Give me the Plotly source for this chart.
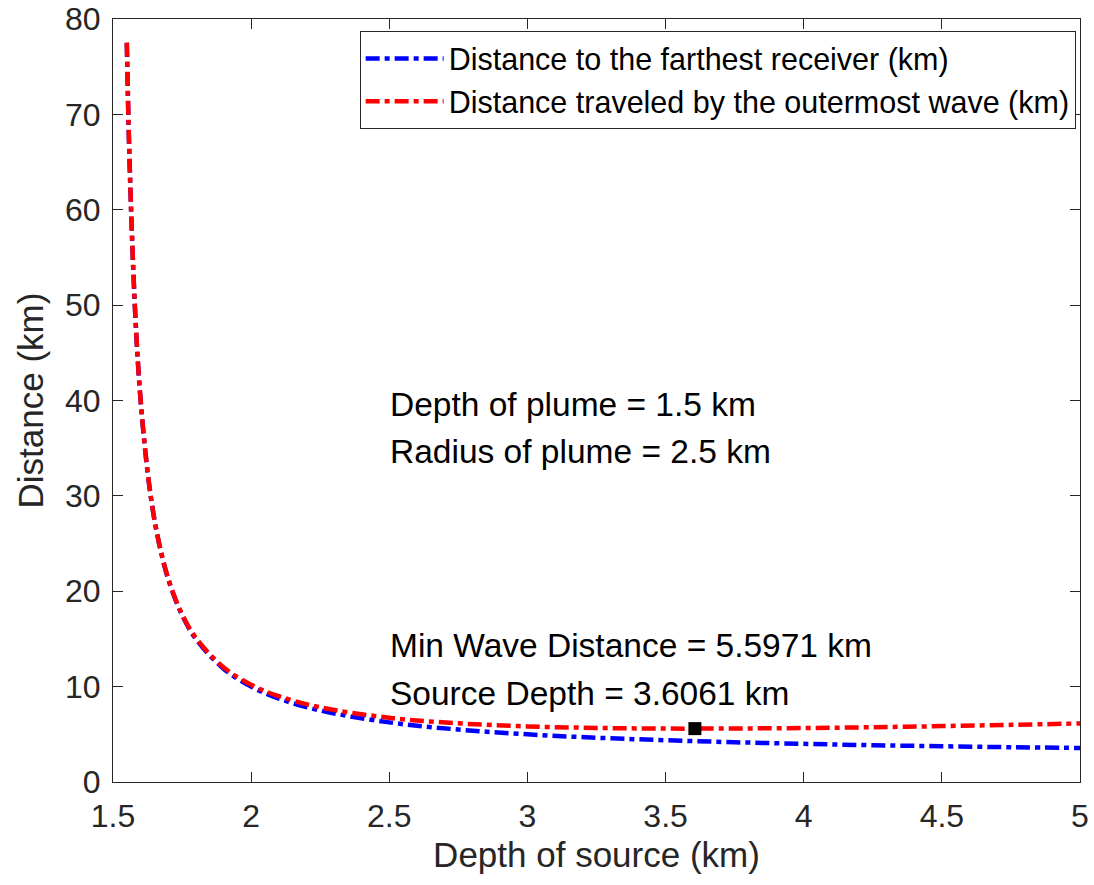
import plotly.graph_objects as go

# Depth of source (km)
depth = [1.55, 1.56, 1.58, 1.60, 1.63, 1.66, 1.70, 1.75, 1.80, 1.90, 2.00, 2.10,
         2.25, 2.50, 2.75, 3.00, 3.25, 3.50, 3.75, 4.00, 4.25, 4.50, 4.75, 5.00]
# Distance to the farthest receiver (km)
receiver_dist = [77.50, 65.00, 49.38, 40.00, 31.35, 25.94, 21.25, 17.50, 15.00, 11.88,
                 10.00, 8.75, 7.50, 6.25, 5.50, 5.00, 4.64, 4.38, 4.17, 4.00, 3.86,
                 3.75, 3.65, 3.57]
# Distance traveled by the outermost wave (km)
wave_dist = [77.52, 65.02, 49.40, 40.03, 31.39, 25.99, 21.32, 17.59, 15.11, 12.03,
             10.20, 9.00, 7.83, 6.73, 6.15, 5.83, 5.67, 5.60, 5.61, 5.66, 5.74,
             5.86, 5.99, 6.14]
min_depth = [3.6061]
min_dist = [5.5971]

x_ticks = [1.5, 2, 2.5, 3, 3.5, 4, 4.5, 5]
x_tick_text = ["1.5", "2", "2.5", "3", "3.5", "4", "4.5", "5"]
y_ticks = [0, 10, 20, 30, 40, 50, 60, 70, 80]

notes = ["Depth of plume = 1.5 km", "Radius of plume = 2.5 km",
         "Min Wave Distance = 5.5971 km", "Source Depth = 3.6061 km"]
note_y = [39.55, 34.65, 14.3, 9.3]

FONT = "Liberation Sans, Arial, Helvetica, sans-serif"
DASH = "14px,5px,5px,5px"

fig = go.Figure()
fig.add_trace(go.Scatter(x=depth, y=receiver_dist, mode="lines",
                         name="Distance to the farthest receiver (km)",
                         line=dict(color="#0000ff", width=4.5, dash=DASH, shape="spline")))
fig.add_trace(go.Scatter(x=depth, y=wave_dist, mode="lines",
                         name="Distance traveled by the outermost wave (km)",
                         line=dict(color="#ff0000", width=4.5, dash=DASH, shape="spline")))
fig.add_trace(go.Scatter(x=min_depth, y=min_dist, mode="markers", showlegend=False,
                         marker=dict(symbol="square", size=13, color="black")))

for t, y in zip(notes, note_y):
    fig.add_annotation(x=2.497, y=y, text=t, showarrow=False, xanchor="left",
                       yanchor="middle", font=dict(family=FONT, size=33.5, color="black"))

axis_common = dict(showline=True, linecolor="#262626", linewidth=1, mirror="allticks",
                   ticks="inside", ticklen=10, tickcolor="#262626", showgrid=False,
                   zeroline=False, automargin=False,
                   tickfont=dict(family=FONT, size=32, color="#262626"))

fig.update_xaxes(range=[1.5, 5], tickvals=x_ticks, ticktext=x_tick_text,
                 ticklabelstandoff=6,
                 title=dict(text="Depth of source (km)", standoff=9,
                            font=dict(family=FONT, size=35, color="#262626")),
                 **axis_common)
fig.update_yaxes(range=[0, 80], tickvals=y_ticks, ticklabelstandoff=5,
                 title=dict(text="Distance (km)", standoff=10,
                            font=dict(family=FONT, size=35, color="#262626")),
                 **axis_common)

fig.update_layout(
    width=1094, height=885,
    margin=dict(l=113, r=14, t=19, b=103),
    plot_bgcolor="white", paper_bgcolor="white",
    legend=dict(x=0.9955, y=0.984, xanchor="right", yanchor="top",
                bgcolor="white", bordercolor="#262626", borderwidth=1,
                font=dict(family=FONT, size=30.5, color="black"),
                itemwidth=78, tracegroupgap=0),
)

fig.write_html("out.html")
